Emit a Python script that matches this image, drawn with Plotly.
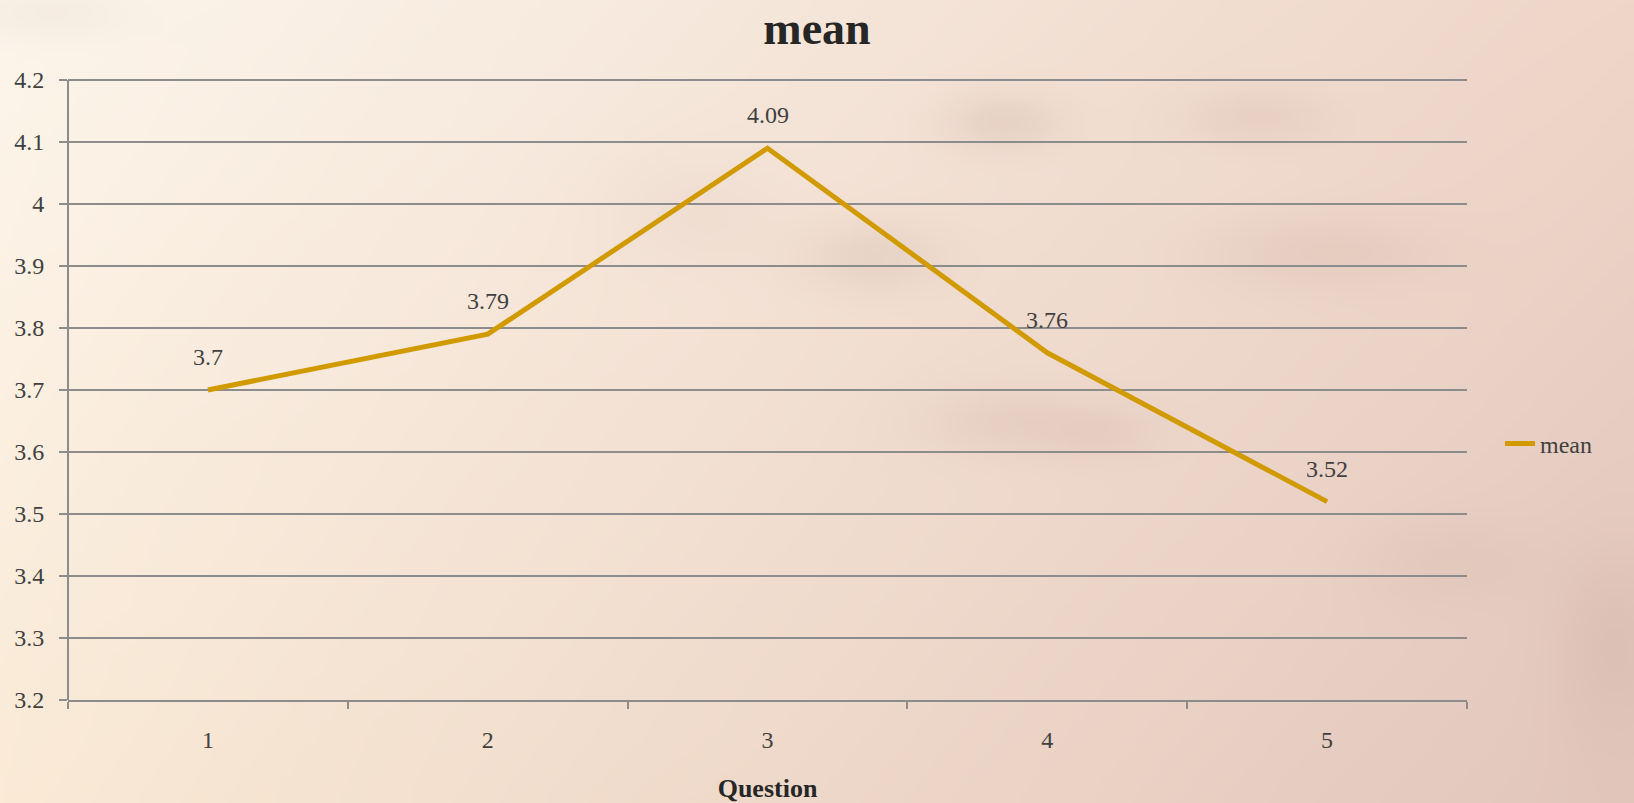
import base64, struct, zlib
import numpy as np
import plotly.graph_objects as go

# ---- data ----
questions = [1, 2, 3, 4, 5]
question_labels = ["1", "2", "3", "4", "5"]
mean_values = [3.70, 3.79, 4.09, 3.76, 3.52]
mean_labels = ["3.7", "3.79", "4.09", "3.76", "3.52"]
y_ticks = [3.2, 3.3, 3.4, 3.5, 3.6, 3.7, 3.8, 3.9, 4.0, 4.1, 4.2]
y_tick_text = ["3.2", "3.3", "3.4", "3.5", "3.6", "3.7", "3.8", "3.9", "4", "4.1", "4.2"]

W, H = 1634, 803
L, R, T, B = 68, 167, 77, 103
EXTRA_TOP_PX = 3  # plot extends a few px above the 4.2 gridline so it is drawn
FONT = "Liberation Serif, DejaVu Serif, serif"
LINE_COLOR = "#D09A00"
TEXT_COLOR = "#404040"
GRID = "#8C8C8C"


# ---- background texture (gradient with soft blotches) ----
def make_bg(w=409, h=201):
    ys, xs = np.mgrid[0:h, 0:w].astype(float)
    u = xs / (w - 1)
    v = ys / (h - 1)
    tl = np.array([253, 246, 236.0])
    tr = np.array([238, 214, 200.0])
    bl = np.array([250, 234, 214.0])
    br = np.array([226, 198, 188.0])
    top = tl * (1 - u[..., None]) + tr * u[..., None]
    bot = bl * (1 - u[..., None]) + br * u[..., None]
    img = top * (1 - v[..., None]) + bot * v[..., None]
    blobs = [  # (cx, cy, sx, sy, strength) in full-size px
        (1000, 120, 40, 20, 14), (1250, 115, 50, 20, 10), (870, 255, 50, 25, 12),
        (1320, 250, 80, 25, 10), (1000, 420, 60, 25, 10), (1100, 430, 40, 20, 8),
        (690, 210, 60, 40, 6), (1610, 640, 40, 70, 9), (40, 10, 60, 20, 8),
        (1450, 560, 60, 30, 6),
    ]
    sc = w / W
    for cx, cy, sx, sy, s in blobs:
        g = np.exp(-(((xs - cx * sc) / (sx * sc)) ** 2 + ((ys - cy * sc) / (sy * sc)) ** 2) / 2)
        img -= g[..., None] * s * np.array([0.8, 1.0, 1.0])
    return np.clip(img, 0, 255).astype(np.uint8)


def png_uri(arr):
    h, w, _ = arr.shape
    raw = b"".join(b"\x00" + arr[i].tobytes() for i in range(h))

    def chunk(tag, data):
        c = struct.pack(">I", len(data)) + tag + data
        return c + struct.pack(">I", zlib.crc32(tag + data) & 0xFFFFFFFF)

    png = b"\x89PNG\r\n\x1a\n" + chunk(b"IHDR", struct.pack(">IIBBBBB", w, h, 8, 2, 0, 0, 0)) \
        + chunk(b"IDAT", zlib.compress(raw, 9)) + chunk(b"IEND", b"")
    return "data:image/png;base64," + base64.b64encode(png).decode()


pw, ph = W - L - R, H - T - B
y_lo, y_hi = y_ticks[0], y_ticks[-1]
y_top = y_hi + (y_hi - y_lo) * EXTRA_TOP_PX / (ph - EXTRA_TOP_PX)

fig = go.Figure()
fig.add_trace(go.Scatter(
    x=questions, y=mean_values, mode="lines", name="mean",
    line=dict(color=LINE_COLOR, width=5), showlegend=True,
))

for q, v, t in zip(questions, mean_values, mean_labels):
    fig.add_annotation(x=q, y=v, text=t, showarrow=False, yshift=33,
                       font=dict(family=FONT, size=24, color=TEXT_COLOR))

fig.add_layout_image(dict(
    source=png_uri(make_bg()), xref="paper", yref="paper",
    x=-L / pw, y=1 + T / ph, sizex=W / pw, sizey=H / ph,
    xanchor="left", yanchor="top", sizing="stretch", layer="below",
))

fig.update_layout(
    width=W, height=H,
    margin=dict(l=L, r=R, t=T, b=B, autoexpand=False),
    paper_bgcolor="#F4E2D2", plot_bgcolor="rgba(0,0,0,0)",
    font=dict(family=FONT, size=24, color=TEXT_COLOR),
    title=dict(text="<b>mean</b>", x=0.5, xref="container", xanchor="center",
               y=1 - 28 / H, yref="container", yanchor="middle",
               font=dict(family=FONT, size=46, color="#262626")),
    legend=dict(x=(1500 - L) / pw, y=(H - B - 444) / ph, xanchor="left", yanchor="middle",
                bgcolor="rgba(0,0,0,0)", font=dict(family=FONT, size=24, color=TEXT_COLOR)),
    xaxis=dict(
        range=[0.5, 5.5], tickvals=questions, ticktext=question_labels, ticks="",
        minor=dict(ticks="outside", tick0=0.5, dtick=1, ticklen=7, tickwidth=2,
                   tickcolor=GRID, showgrid=False),
        showline=True, linecolor=GRID, linewidth=2, showgrid=False,
        zeroline=False, ticklabelstandoff=17,
        tickfont=dict(family=FONT, size=24, color=TEXT_COLOR),
        title=dict(text="<b>Question</b>", standoff=31,
                   font=dict(family=FONT, size=26, color="#262626")),
        automargin=False,
    ),
    yaxis=dict(
        range=[y_lo, y_top], tickvals=y_ticks, ticktext=y_tick_text,
        ticks="outside", ticklen=8, tickwidth=2, tickcolor=GRID,
        showline=False,
        showgrid=True, gridcolor=GRID, gridwidth=2, zeroline=False,
        ticklabelstandoff=10, automargin=False,
        tickfont=dict(family=FONT, size=24, color=TEXT_COLOR),
    ),
    shapes=[dict(type="line", xref="paper", yref="y", x0=0, x1=0, y0=y_lo, y1=y_hi,
                 line=dict(color=GRID, width=2), layer="below")],
)

fig.write_html("out.html")
